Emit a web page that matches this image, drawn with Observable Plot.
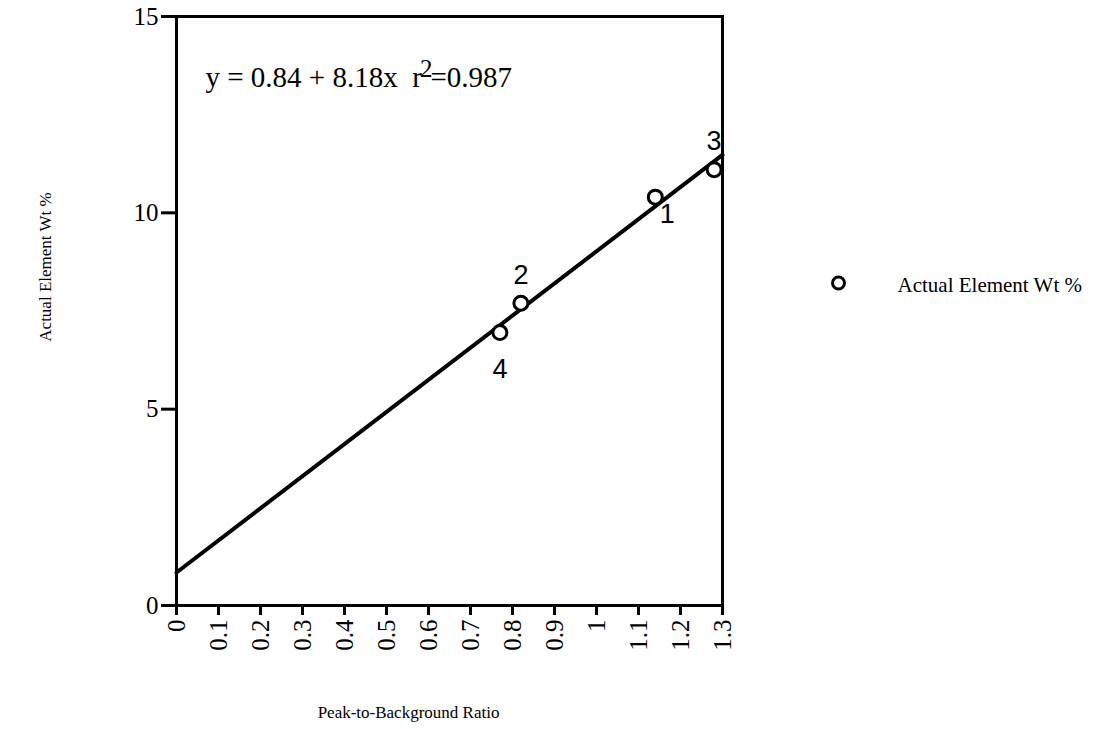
<!DOCTYPE html>
<html>
<head>
<meta charset="utf-8">
<script src="https://cdn.jsdelivr.net/npm/d3@7"></script>
<script src="https://cdn.jsdelivr.net/npm/@observablehq/plot@0.6"></script>
<style>
  html, body { margin: 0; padding: 0; background: #fff; }
  #chart svg { display: block; }
</style>
</head>
<body>
<div id="chart"></div>
<script>
// Data
const sampleIds   = ["1", "2", "3", "4"];
const peakRatio   = [1.14, 0.82, 1.28, 0.77];
const elementWt   = [10.4, 7.7, 11.1, 6.95];
const fitIntercept = 0.84;
const fitSlope     = 8.18;
const fitR2        = 0.987;
const fitXRange    = [0, 1.3];
const xTicks = [0, 0.1, 0.2, 0.3, 0.4, 0.5, 0.6, 0.7, 0.8, 0.9, 1, 1.1, 1.2, 1.3];
const yTicks = [0, 5, 10, 15];
const seriesName = "Actual Element Wt %";
const xTitle = "Peak-to-Background Ratio";
const yTitle = "Actual Element Wt %";

const points = sampleIds.map((id, i) => ({id, x: peakRatio[i], y: elementWt[i]}));
const fitLine = fitXRange.map(x => ({x, y: fitIntercept + fitSlope * x}));
const eqMain = `y = ${fitIntercept} + ${fitSlope}x  r`;
const eqSup = "2";
const eqTail = `=${fitR2}`;

const serif = "'Liberation Serif', 'Times New Roman', serif";
const sans = "'Liberation Sans', Arial, Helvetica, sans-serif";

const chart = Plot.plot({
  width: 1118,
  height: 729,
  marginLeft: 176,
  marginRight: 396,
  marginTop: 16,
  marginBottom: 124,
  style: {fontFamily: serif, color: "#000", background: "#fff"},
  x: {domain: [0, 1.3]},
  y: {domain: [0, 15]},
  marks: [
    Plot.axisY({ticks: yTicks, tickSize: 15, tickPadding: 3, strokeWidth: 3, fontSize: 25, label: null, tickFormat: d => String(d)}),
    Plot.axisX({ticks: xTicks, tickSize: 10, tickPadding: 4, strokeWidth: 3, fontSize: 25, tickRotate: -90, label: null, tickFormat: d => String(d)}),
    Plot.frame({stroke: "#000", strokeWidth: 3}),
    Plot.line(fitLine, {x: "x", y: "y", stroke: "#000", strokeWidth: 4}),
    Plot.dot(points, {x: "x", y: "y", r: 7, stroke: "#000", strokeWidth: 3, fill: "#fff"}),
    Plot.text(points.filter(d => d.id === "2" || d.id === "3"), {x: "x", y: "y", text: "id", dy: -28, fontSize: 27, fontFamily: sans}),
    Plot.text(points.filter(d => d.id === "4"), {x: "x", y: "y", text: "id", dy: 37, fontSize: 27, fontFamily: sans}),
    Plot.text(points.filter(d => d.id === "1"), {x: "x", y: "y", text: "id", dx: 12, dy: 17, fontSize: 27, fontFamily: sans}),
    Plot.text([eqMain], {frameAnchor: "top-left", dx: 29, dy: 50, textAnchor: "start", fontSize: 29, fontFamily: serif, className: "eq"}),
    Plot.text([yTitle], {frameAnchor: "left", dx: -131, dy: -44, rotate: -90, textAnchor: "middle", fontSize: 17, fontFamily: serif}),
    Plot.text([xTitle], {frameAnchor: "bottom", dx: -41, dy: 112, textAnchor: "middle", fontSize: 17, fontFamily: serif}),
    Plot.dot([seriesName], {frameAnchor: "right", dx: 116, dy: -28, r: 6, stroke: "#000", strokeWidth: 3, fill: "#fff"}),
    Plot.text([seriesName], {frameAnchor: "right", dx: 175, dy: -26, textAnchor: "start", fontSize: 21, fontFamily: serif})
  ]
});
document.getElementById("chart").appendChild(chart);

// Turn the "r2" part of the equation into a real superscript
const eqNode = chart.querySelector(".eq text");
if (eqNode) {
  const ns = "http://www.w3.org/2000/svg";
  const sup = document.createElementNS(ns, "tspan");
  sup.setAttribute("dy", "-0.42em");
  sup.setAttribute("dx", "-2");
  sup.setAttribute("font-size", "25");
  sup.textContent = eqSup;
  const tail = document.createElementNS(ns, "tspan");
  tail.setAttribute("dy", "0.37em");
  tail.setAttribute("dx", "-2");
  tail.setAttribute("font-size", "29");
  tail.textContent = eqTail;
  eqNode.appendChild(sup);
  eqNode.appendChild(tail);
}
</script>
</body>
</html>
